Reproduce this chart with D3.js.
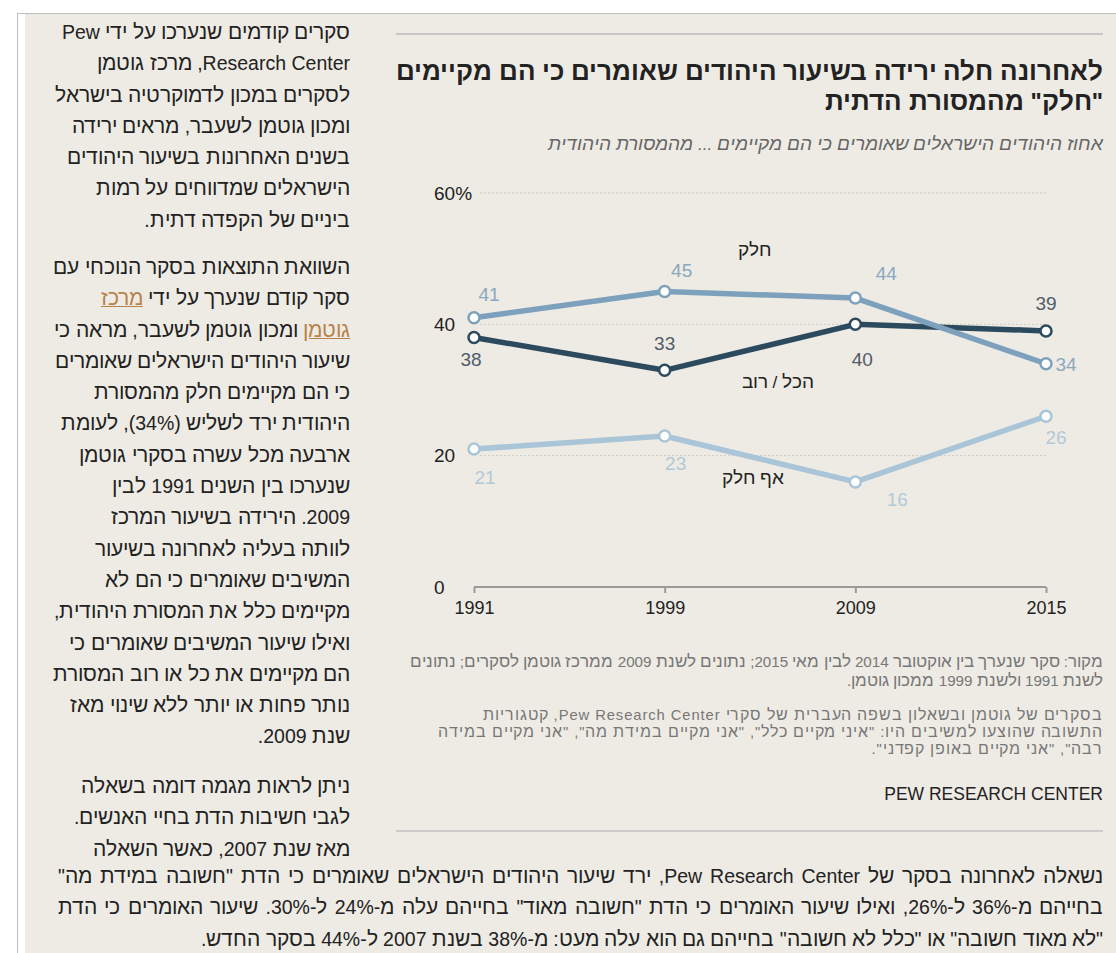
<!DOCTYPE html>
<html lang="he">
<head>
<meta charset="utf-8">
<script src="https://cdn.jsdelivr.net/npm/d3@7"></script>
<style>
  /* Hebrew glyphs in the original render wider than Liberation's, so scale only the Hebrew range */
  @font-face { font-family: "HebArial"; src: local("Liberation Sans"), local("LiberationSans");
               unicode-range: U+0590-05FF, U+FB1D-FB4F; size-adjust: 109%; }
  @font-face { font-family: "HebArial"; font-weight: bold;
               src: local("Liberation Sans Bold"), local("LiberationSans-Bold");
               unicode-range: U+0590-05FF, U+FB1D-FB4F; size-adjust: 109%; }
  @font-face { font-family: "HebArial"; font-style: italic;
               src: local("Liberation Sans Italic"), local("LiberationSans-Italic");
               unicode-range: U+0590-05FF, U+FB1D-FB4F; size-adjust: 109%; }
  html, body { margin: 0; padding: 0; background: #fff; }
  body { width: 1116px; height: 953px; position: relative; overflow: hidden;
         font-family: "HebArial", Arial, "Liberation Sans", sans-serif; }
  #frame { position: absolute; left: 17px; top: 13px; right: 0; bottom: 0;
           border-left: 1px solid #bdbdbd; border-top: 1px solid #bdbdbd; background: #fff; }
  #page { position: absolute; left: 25px; top: 14px; right: 0; bottom: 0; background: #eeebe4; }
  .para { position: absolute; direction: rtl; text-align: right; color: #222; }
  .para div { white-space: nowrap; }
  .para div.just { text-align-last: justify; }
  .body-text { font-size: 19.5px; line-height: 31.3px; }
  .para a { color: #b7824a; text-decoration: underline; }
  #chart-title { font-weight: bold; font-size: 23.8px; line-height: 30px; color: #222; }
  #chart-sub { font-style: italic; font-size: 17.3px; color: #666; }
  .note { font-size: 15.2px; color: #777; }
  #note2 { font-size: 14.8px; line-height: 17px; letter-spacing: 0.9px; }
  #credit { font-family: Arial, sans-serif; font-size: 17.5px; color: #222; direction: ltr; }
  svg { position: absolute; left: 0; top: 0; }
</style>
</head>
<body>
<div id="frame"></div>
<div id="page"></div>
<svg id="chart" width="1116" height="953"></svg>
<script>
// ---- data ----
const years = ["1991", "1999", "2009", "2015"];
const partValues = [41, 45, 44, 34];      // חלק
const allMostValues = [38, 33, 40, 39];   // הכל / רוב
const noneValues = [21, 23, 16, 26];      // אף חלק
const yTicks = [0, 20, 40, 60];
const yTickLabels = ["0", "20", "40", "60%"];

const titleLines = [
  "לאחרונה חלה ירידה בשיעור היהודים שאומרים כי הם מקיימים",
  "\"חלק\" מהמסורת הדתית"
];
const subtitle = "אחוז  היהודים הישראלים שאומרים כי הם מקיימים ... מהמסורת היהודית";
const sourceLines = [
  "מקור: סקר שנערך בין אוקטובר 2014 לבין מאי 2015; נתונים לשנת 2009 ממרכז גוטמן לסקרים; נתונים",
  "לשנת 1991 ולשנת 1999 ממכון גוטמן."
];
const noteLines = [
  "בסקרים של גוטמן ובשאלון בשפה העברית של סקרי Pew Research Center, קטגוריות",
  "התשובה שהוצעו למשיבים היו: \"איני מקיים כלל\", \"אני מקיים במידת מה\", \"אני מקיים במידה",
  "רבה\", \"אני מקיים באופן קפדני\"."
];
const credit = "PEW RESEARCH CENTER";

const para1 = [
  "סקרים קודמים שנערכו על ידי  Pew",
  "Research Center, מרכז גוטמן",
  "לסקרים במכון לדמוקרטיה בישראל",
  "ומכון גוטמן לשעבר, מראים ירידה",
  "בשנים האחרונות בשיעור היהודים",
  "הישראלים שמדווחים על רמות",
  "ביניים של הקפדה דתית."
];
const para2 = [
  "השוואת התוצאות בסקר הנוכחי עם",
  "סקר קודם שנערך על ידי <a>מרכז</a>",
  "<a>גוטמן</a> ומכון גוטמן לשעבר, מראה כי",
  "שיעור היהודים הישראלים שאומרים",
  "כי הם מקיימים חלק מהמסורת",
  "היהודית ירד לשליש (34%), לעומת",
  "ארבעה מכל עשרה בסקרי גוטמן",
  "שנערכו בין השנים 1991 לבין",
  "2009. הירידה בשיעור המרכז",
  "לוותה בעליה לאחרונה בשיעור",
  "המשיבים שאומרים כי הם לא",
  "מקיימים כלל את המסורת היהודית,",
  "ואילו שיעור המשיבים שאומרים כי",
  "הם מקיימים את כל או רוב המסורת",
  "נותר פחות או יותר ללא שינוי מאז",
  "שנת 2009."
];
const para3 = [
  "ניתן לראות מגמה דומה בשאלה",
  "לגבי חשיבות הדת בחיי האנשים.",
  "מאז שנת 2007, כאשר השאלה"
];
const para4 = [
  "נשאלה לאחרונה בסקר של Pew Research Center, ירד שיעור היהודים הישראלים שאומרים כי הדת \"חשובה במידת מה\"",
  "בחייהם מ-36% ל-26%, ואילו שיעור האומרים כי הדת \"חשובה מאוד\" בחייהם עלה מ-24% ל-30%. שיעור האומרים כי הדת",
  "\"לא מאוד חשובה\" או \"כלל לא חשובה\" בחייהם גם הוא עלה מעט: מ-38% בשנת 2007 ל-44% בסקר החדש."
];

// ---- text blocks ----
const body = d3.select("body");
function addPara(lines, cls, left, top, width, id) {
  const p = body.append("div").attr("class", "para " + cls)
    .style("left", left + "px").style("top", top + "px").style("width", width + "px");
  if (id) p.attr("id", id);
  p.selectAll("div").data(lines).join("div").html((d) => d);
  return p;
}
addPara(para1, "body-text", 20, 17, 330);
addPara(para2, "body-text", 20, 252, 330);
addPara(para3, "body-text", 20, 771, 330);
// wide lines run the full width of the column, the last one stays ragged
addPara(para4, "body-text", 58, 861, 1045)
  .selectAll("div").classed("just", (d, i) => i < para4.length - 1);

addPara(titleLines, "", 380, 57, 723, "chart-title");
addPara([subtitle], "", 380, 133, 723, "chart-sub");
addPara(sourceLines, "note", 380, 652, 723).style("line-height", "19px");
addPara(noteLines, "note", 380, 707, 723, "note2");
addPara([credit], "", 600, 784, 503, "credit").style("text-align", "right");

// ---- chart ----
const svg = d3.select("#chart");

// rules above and below the chart
svg.append("line").attr("x1", 396).attr("x2", 1103).attr("y1", 34).attr("y2", 34)
  .attr("stroke", "#c6c6c6").attr("stroke-width", 2);
svg.append("line").attr("x1", 396).attr("x2", 1103).attr("y1", 831).attr("y2", 831)
  .attr("stroke", "#cccccc").attr("stroke-width", 2);

const xScale = d3.scalePoint().domain(years).range([474, 1046]);
const yScale = d3.scaleLinear().domain([0, 60]).range([587, 193]);

// gridlines
svg.append("g").attr("class", "y-grid")
  .selectAll("line").data(yTicks.filter((d) => d > 0)).join("line")
  .attr("x1", 480).attr("x2", 1046)
  .attr("y1", (d) => yScale(d)).attr("y2", (d) => yScale(d))
  .attr("stroke", "#cbc9c3").attr("stroke-width", 1).attr("stroke-dasharray", "2,2");

// y labels (left aligned)
svg.append("g").attr("class", "y-labels")
  .selectAll("text").data(yTicks).join("text")
  .attr("x", 434).attr("y", (d) => yScale(d)).attr("dy", "0.35em")
  .attr("font-size", 19).attr("fill", "#222")
  .text((d, i) => yTickLabels[i]);

// x axis
const xAxis = svg.append("g").attr("class", "x-axis")
  .attr("transform", "translate(0," + yScale(0) + ")")
  .call(d3.axisBottom(xScale).tickSize(6).tickPadding(8));
xAxis.select(".domain").attr("stroke", "#9a9a9a").attr("stroke-width", 2)
  .attr("d", "M" + xScale("1991") + ",0H" + xScale("2015"));
xAxis.selectAll(".tick line").attr("stroke", "#9a9a9a").attr("stroke-width", 2);
xAxis.selectAll(".tick text").attr("font-size", 18).attr("fill", "#222")
  .attr("font-family", "Arial, sans-serif");

const series = [
  { name: "אף חלק", values: noneValues, color: "#a9c5d7", labelColor: "#b2c9d8",
    offsets: [[11, 28], [11, 27], [42, 17], [10, 21]], tag: [753, 478] },
  { name: "הכל / רוב", values: allMostValues, color: "#2c4a5e", labelColor: "#4e5c69",
    offsets: [[-3, 22], [0, -27], [7, 35], [0, -28]], tag: [778, 382] },
  { name: "חלק", values: partValues, color: "#7da1bd", labelColor: "#8aa8c0",
    offsets: [[15, -23], [17, -21], [31, -25], [20, 1]], tag: [755, 250] }
];

const lineFunction = d3.line()
  .x((d, i) => xScale(years[i]))
  .y((d) => yScale(d));

const lines = svg.append("g").attr("class", "graph-lines");
series.forEach((s) => {
  lines.append("path")
    .attr("d", lineFunction(s.values))
    .attr("fill", "none").attr("stroke", s.color).attr("stroke-width", 5.5)
    .attr("stroke-linejoin", "round");
});
series.forEach((s) => {
  lines.append("g").selectAll("circle").data(s.values).join("circle")
    .attr("cx", (d, i) => xScale(years[i])).attr("cy", (d) => yScale(d))
    .attr("r", 5.5).attr("fill", "#fff").attr("stroke", s.color).attr("stroke-width", 2.5);
  lines.append("g").selectAll("text").data(s.values).join("text")
    .attr("x", (d, i) => xScale(years[i]) + s.offsets[i][0])
    .attr("y", (d, i) => yScale(d) + s.offsets[i][1])
    .attr("dy", "0.35em").attr("text-anchor", "middle")
    .attr("font-size", 19).attr("fill", s.labelColor)
    .text((d) => d);
  svg.append("text")
    .attr("x", s.tag[0]).attr("y", s.tag[1]).attr("dy", "0.35em")
    .attr("text-anchor", "middle").attr("font-size", 17.3).attr("fill", "#222")
    .text(s.name);
});
</script>
</body>
</html>
